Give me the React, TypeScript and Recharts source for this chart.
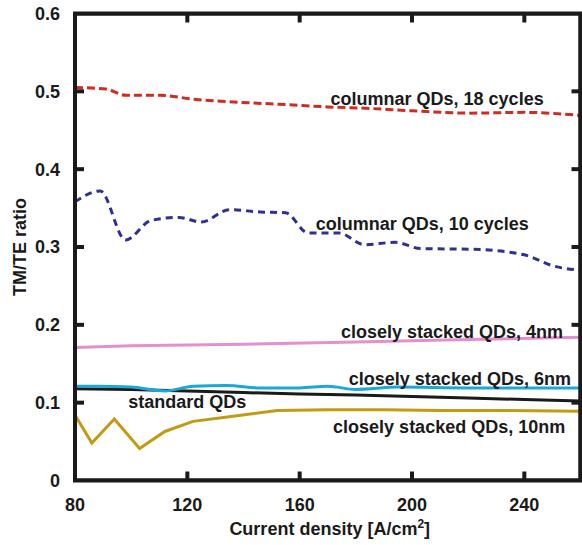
import React from 'react';
import { LineChart, Line, XAxis, YAxis, ReferenceDot, Label } from 'recharts';

// TM/TE ratio vs current density for several QD structures
const cycles18 = [
  { x: 80, y: 0.505 }, { x: 91, y: 0.503 }, { x: 98, y: 0.495 }, { x: 110, y: 0.495 },
  { x: 122, y: 0.49 }, { x: 138, y: 0.486 }, { x: 155, y: 0.483 }, { x: 170, y: 0.48 },
  { x: 185, y: 0.478 }, { x: 200, y: 0.475 }, { x: 220, y: 0.472 }, { x: 240, y: 0.473 },
  { x: 260, y: 0.469 },
];

const cycles10 = [
  { x: 80, y: 0.358 }, { x: 89, y: 0.372 }, { x: 98, y: 0.309 }, { x: 107, y: 0.334 },
  { x: 117, y: 0.338 }, { x: 125, y: 0.332 }, { x: 135, y: 0.348 }, { x: 146, y: 0.345 },
  { x: 155, y: 0.344 }, { x: 163, y: 0.318 }, { x: 174, y: 0.318 }, { x: 183, y: 0.303 },
  { x: 194, y: 0.306 }, { x: 203, y: 0.298 }, { x: 222, y: 0.297 }, { x: 240, y: 0.29 },
  { x: 250, y: 0.276 }, { x: 260, y: 0.27 },
];

const stacked4nm = [
  { x: 80, y: 0.171 }, { x: 100, y: 0.173 }, { x: 140, y: 0.175 }, { x: 180, y: 0.178 },
  { x: 220, y: 0.181 }, { x: 260, y: 0.184 },
];

const stacked6nm = [
  { x: 80, y: 0.121 }, { x: 88, y: 0.121 }, { x: 100, y: 0.12 }, { x: 112, y: 0.115 },
  { x: 122, y: 0.121 }, { x: 134, y: 0.122 }, { x: 146, y: 0.119 }, { x: 160, y: 0.119 },
  { x: 170, y: 0.121 }, { x: 180, y: 0.117 }, { x: 195, y: 0.12 }, { x: 220, y: 0.119 },
  { x: 240, y: 0.119 }, { x: 260, y: 0.119 },
];

const standard = [
  { x: 80, y: 0.118 }, { x: 100, y: 0.117 }, { x: 120, y: 0.115 }, { x: 140, y: 0.113 },
  { x: 160, y: 0.111 }, { x: 180, y: 0.11 }, { x: 200, y: 0.108 }, { x: 220, y: 0.106 },
  { x: 240, y: 0.104 }, { x: 260, y: 0.102 },
];

const stacked10nm = [
  { x: 80, y: 0.084 }, { x: 86, y: 0.048 }, { x: 94, y: 0.079 }, { x: 103, y: 0.041 },
  { x: 112, y: 0.063 }, { x: 122, y: 0.076 }, { x: 137, y: 0.083 }, { x: 152, y: 0.09 },
  { x: 170, y: 0.091 }, { x: 190, y: 0.091 }, { x: 210, y: 0.09 }, { x: 230, y: 0.09 },
  { x: 260, y: 0.089 },
];

const X_DOMAIN = [80, 260];
const Y_DOMAIN = [0, 0.6];
const xTicks = [80, 120, 160, 200, 240];
const yTicks = [0, 0.1, 0.2, 0.3, 0.4, 0.5, 0.6];
const innerXTicks = [120, 160, 200, 240];
const innerYTicks = [0.1, 0.2, 0.3, 0.4, 0.5];

// curve annotations (text anchored at start, baseline in data units)
const notes = [
  { text: 'columnar QDs, 18 cycles', x: 171, y: 0.483 },
  { text: 'columnar QDs, 10 cycles', x: 165.7, y: 0.322 },
  { text: 'closely stacked QDs, 4nm', x: 174.7, y: 0.1827 },
  { text: 'closely stacked QDs, 6nm', x: 177.5, y: 0.1227 },
  { text: 'standard QDs', x: 99, y: 0.0928 },
  { text: 'closely stacked QDs, 10nm', x: 171.9, y: 0.0614 },
];

const INK = '#1a1a1a';
const FONT = '"Liberation Sans", Arial, Helvetica, sans-serif';
const tickStyle = { fill: INK, fontSize: 18, fontWeight: 'bold', fontFamily: FONT };

// plot box size in px (chart 582x545 minus margins/axes)
const PLOT_W = 582 - 75 - 1.5;
const PLOT_H = 545 - 13.5 - 64.5;
const TICK = 9;

// box around the plot, drawn as a closed polyline over the domain corners
const frameOutline = [
  { x: X_DOMAIN[0], y: Y_DOMAIN[0] }, { x: X_DOMAIN[1], y: Y_DOMAIN[0] },
  { x: X_DOMAIN[1], y: Y_DOMAIN[1] }, { x: X_DOMAIN[0], y: Y_DOMAIN[1] },
  { x: X_DOMAIN[0], y: Y_DOMAIN[0] },
];

// tick anchors on the four sides
const tickAnchors = [
  ...innerXTicks.map((t) => ({ x: t, y: Y_DOMAIN[0], side: 'bottom' })),
  ...innerXTicks.map((t) => ({ x: t, y: Y_DOMAIN[1], side: 'top' })),
  ...innerYTicks.map((t) => ({ x: X_DOMAIN[0], y: t, side: 'left' })),
  ...innerYTicks.map((t) => ({ x: X_DOMAIN[1], y: t, side: 'right' })),
];

const tickRect = (side: string, cx: number, cy: number) => {
  if (side === 'bottom') return { x: cx - 2, y: cy - TICK, width: 4, height: TICK };
  if (side === 'top') return { x: cx - 2, y: cy, width: 4, height: TICK };
  if (side === 'left') return { x: cx, y: cy - 2, width: TICK, height: 4 };
  return { x: cx - TICK, y: cy - 2, width: TICK, height: 4 };
};

const App: React.FC = () => {
  return (
    <div style={{ position: 'absolute', left: 0, top: 0, background: '#fff' }}>
      <LineChart width={582} height={545} margin={{ top: 13.5, right: 1.5, bottom: 24.5, left: 0 }}>
        <XAxis
          type="number"
          dataKey="x"
          domain={X_DOMAIN}
          ticks={xTicks}
          allowDataOverflow
          height={40}
          axisLine={false}
          tickLine={false}
          tickMargin={12}
          tick={tickStyle}
        >
          <Label
            content={({ viewBox }: any) => (
              <text
                x={viewBox.x + viewBox.width / 2 + 2}
                y={535}
                textAnchor="middle"
                fill={INK}
                fontSize={18}
                fontWeight="bold"
                fontFamily={FONT}
              >
                Current density [A/cm<tspan dy={-7} fontSize={12}>2</tspan>
                <tspan dy={7}>]</tspan>
              </text>
            )}
          />
        </XAxis>
        <YAxis
          type="number"
          domain={Y_DOMAIN}
          ticks={yTicks}
          allowDataOverflow
          width={75}
          axisLine={false}
          tickLine={false}
          tickMargin={9}
          tick={tickStyle}
          tickFormatter={(v: number) => (v === 0 ? '0' : String(v))}
        >
          <Label
            content={({ viewBox }: any) => (
              <text
                x={26}
                y={viewBox.y + viewBox.height / 2}
                transform={`rotate(-90 26 ${viewBox.y + viewBox.height / 2})`}
                textAnchor="middle"
                fill={INK}
                fontSize={18}
                fontWeight="bold"
                fontFamily={FONT}
              >
                TM/TE ratio
              </text>
            )}
          />
        </YAxis>

        <Line data={cycles18} dataKey="y" type="monotone" stroke="#d42a1e" strokeWidth={3}
          strokeDasharray="8 4" dot={false} isAnimationActive={false} />
        <Line data={cycles10} dataKey="y" type="monotone" stroke="#2e3192" strokeWidth={3}
          strokeDasharray="7 5" dot={false} isAnimationActive={false} />
        <Line data={stacked4nm} dataKey="y" type="linear" stroke="#e48fd0" strokeWidth={3}
          dot={false} isAnimationActive={false} />
        <Line data={standard} dataKey="y" type="linear" stroke={INK} strokeWidth={3}
          dot={false} isAnimationActive={false} />
        <Line data={stacked6nm} dataKey="y" type="monotone" stroke="#1aa8d8" strokeWidth={3}
          dot={false} isAnimationActive={false} />
        <Line data={stacked10nm} dataKey="y" type="linear" stroke="#c39a12" strokeWidth={3}
          dot={false} isAnimationActive={false} />

        {/* plot frame */}
        <Line data={frameOutline} dataKey="y" type="linear" stroke={INK} strokeWidth={4}
          strokeLinejoin="miter" strokeLinecap="square"
          dot={false} activeDot={false} isAnimationActive={false} />
        <ReferenceDot
          x={X_DOMAIN[0]}
          y={Y_DOMAIN[1]}
          ifOverflow="visible"
          shape={(p: any) => (
            <path
              d={`M${p.cx},${p.cy}h${PLOT_W}v${PLOT_H}h${-PLOT_W}Z`}
              fill="none"
              stroke={INK}
              strokeWidth={4}
              strokeLinejoin="miter"
            />
          )}
        />

        {/* inward ticks on all four sides */}
        {tickAnchors.map((a) => (
          <ReferenceDot
            key={`${a.side}${a.x}${a.y}`}
            x={a.x}
            y={a.y}
            ifOverflow="visible"
            shape={(p: any) => {
              const r = tickRect(a.side, p.cx, p.cy);
              return (
                <path d={`M${r.x},${r.y}h${r.width}v${r.height}h${-r.width}Z`} fill={INK} stroke="none" />
              );
            }}
          />
        ))}

        {notes.map((n) => (
          <ReferenceDot
            key={n.text}
            x={n.x}
            y={n.y}
            ifOverflow="visible"
            shape={(p: any) => (
              <text x={p.cx} y={p.cy} fill={INK} fontSize={18} fontWeight="bold" fontFamily={FONT}>
                {n.text}
              </text>
            )}
          />
        ))}
      </LineChart>
    </div>
  );
};

export default App;
